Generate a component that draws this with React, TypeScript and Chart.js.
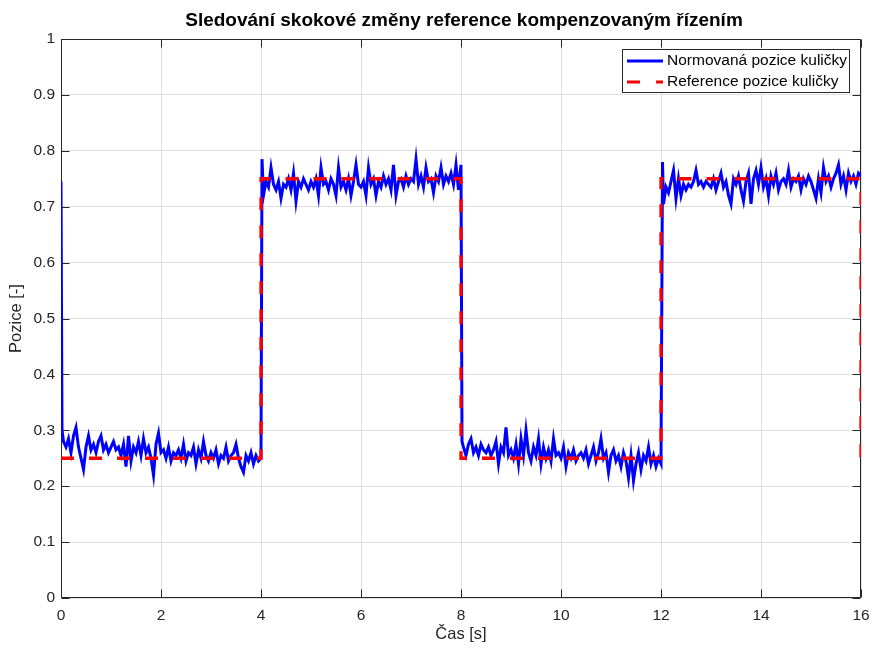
import React, { useEffect, useRef } from "react";
import { Chart, registerables } from "chart.js";

Chart.register(...registerables);

const TITLE = "Sledování skokové změny reference kompenzovaným řízením";
const X_LABEL = "Čas [s]";
const Y_LABEL = "Pozice [-]";
const LEGEND_LABELS = ["Normovaná pozice kuličky", "Reference pozice kuličky"];

// sample step of the measured position [s]
const SAMPLE_STEP = 0.05;

const posStart = [0.745];
const posSeg1 = [
  0.28, 0.27, 0.285, 0.26, 0.29, 0.305, 0.27, 0.25, 0.23, 0.27, 0.29, 0.265, 0.275, 0.26, 0.28, 0.29, 0.265, 0.275, 0.26, 0.27,
  0.28, 0.265, 0.27, 0.255, 0.275, 0.235, 0.29, 0.245, 0.27, 0.26, 0.28, 0.255, 0.285, 0.26, 0.27, 0.25, 0.22, 0.275, 0.295, 0.26,
  0.265, 0.25, 0.27, 0.245, 0.26, 0.255, 0.265, 0.25, 0.275, 0.245, 0.26, 0.255, 0.27, 0.24, 0.265, 0.25, 0.28, 0.255, 0.245, 0.26,
  0.25, 0.265, 0.24, 0.255, 0.25, 0.27, 0.245, 0.255, 0.26, 0.275, 0.25, 0.235, 0.225, 0.255, 0.245, 0.26, 0.24, 0.255, 0.245,
];
const posAt4 = [0.25];
const posSeg2 = [
  0.72, 0.745, 0.735, 0.77, 0.74, 0.73, 0.745, 0.715, 0.74, 0.735, 0.75, 0.73, 0.76, 0.71, 0.745, 0.735, 0.75, 0.74, 0.73, 0.745,
  0.735, 0.75, 0.72, 0.77, 0.74, 0.745, 0.73, 0.75, 0.74, 0.72, 0.77, 0.735, 0.745, 0.73, 0.75, 0.72, 0.745, 0.775, 0.74, 0.735,
  0.745, 0.72, 0.77, 0.74, 0.75, 0.72, 0.745, 0.735, 0.755, 0.74, 0.75, 0.73, 0.775, 0.72, 0.745, 0.75, 0.735, 0.755, 0.74, 0.75,
  0.745, 0.785, 0.74, 0.755, 0.735, 0.77, 0.745, 0.75, 0.725, 0.755, 0.745, 0.77, 0.74, 0.755, 0.745, 0.76, 0.74, 0.775, 0.73,
];
const posAt8 = [0.775];
const posSeg3 = [
  0.27, 0.255, 0.275, 0.285, 0.26, 0.27, 0.255, 0.275, 0.265, 0.26, 0.27, 0.255, 0.265, 0.28, 0.24, 0.27, 0.26, 0.305, 0.255, 0.265,
  0.25, 0.275, 0.24, 0.285, 0.255, 0.3, 0.26, 0.245, 0.27, 0.255, 0.285, 0.24, 0.27, 0.25, 0.265, 0.245, 0.285, 0.255, 0.26, 0.25,
  0.27, 0.235, 0.26, 0.25, 0.265, 0.245, 0.255, 0.26, 0.25, 0.265, 0.24, 0.255, 0.27, 0.245, 0.26, 0.285, 0.25, 0.26, 0.225, 0.255,
  0.265, 0.245, 0.255, 0.235, 0.26, 0.245, 0.215, 0.255, 0.21, 0.24, 0.26, 0.23, 0.255, 0.245, 0.27, 0.24, 0.255, 0.235, 0.25,
];
const posAt12 = [0.24];
const posSeg4 = [
  0.705, 0.735, 0.725, 0.745, 0.765, 0.715, 0.75, 0.72, 0.74, 0.73, 0.74, 0.735, 0.745, 0.765, 0.74, 0.745, 0.735, 0.745, 0.74, 0.735,
  0.75, 0.73, 0.745, 0.76, 0.735, 0.745, 0.72, 0.705, 0.75, 0.74, 0.755, 0.73, 0.71, 0.745, 0.76, 0.705, 0.75, 0.765, 0.74, 0.77,
  0.735, 0.75, 0.72, 0.755, 0.74, 0.76, 0.73, 0.745, 0.75, 0.74, 0.765, 0.735, 0.75, 0.745, 0.755, 0.73, 0.75, 0.74, 0.755, 0.745,
  0.73, 0.715, 0.75, 0.725, 0.77, 0.745, 0.755, 0.735, 0.75, 0.76, 0.775, 0.74, 0.755, 0.73, 0.76, 0.745, 0.755, 0.74, 0.76,
];
const posEnd = [0.755];

// fast transient samples just after each reference step
const transientT = [0.02, 4.02, 8.02, 12.03];
const transientY = [0.3, 0.785, 0.28, 0.78];

// reference (step changes)
const refT = [0, 4, 4, 8, 8, 12, 12, 16, 16];
const refY = [0.25, 0.25, 0.75, 0.75, 0.25, 0.25, 0.75, 0.75, 0.25];

const X_MIN = 0, X_MAX = 16, X_STEP = 2;
const Y_MIN = 0, Y_MAX = 1, Y_STEP = 0.1;

const FONT = "'Liberation Sans', Arial, Helvetica, sans-serif";
const AXIS_COLOR = "#262626";

export default function App() {
  const canvasRef = useRef<HTMLCanvasElement>(null);

  useEffect(() => {
    document.body.style.margin = "0";
    const canvas = canvasRef.current;
    if (!canvas) return;

    const gridVals = [
      ...posStart, ...posSeg1, ...posAt4, ...posSeg2, ...posAt8, ...posSeg3, ...posAt12, ...posSeg4, ...posEnd,
    ];
    const posData: { x: number; y: number }[] = gridVals.map((v, i) => ({ x: +(i * SAMPLE_STEP).toFixed(3), y: v }));
    transientT.forEach((t, i) => posData.push({ x: t, y: transientY[i] }));
    posData.sort((a, b) => a.x - b.x);

    const refData = refT.map((t, i) => ({ x: t, y: refY[i] }));

    const boxPlugin = {
      id: "boxPlugin",
      beforeDatasetsDraw(c: any) {
        const { ctx, chartArea: a, scales } = c;
        ctx.save();
        ctx.strokeStyle = AXIS_COLOR;
        ctx.lineWidth = 1;
        const L = Math.round(a.left) + 0.5, R = Math.round(a.right) - 0.5;
        const T = Math.round(a.top) + 0.5, B = Math.round(a.bottom) - 0.5;
        ctx.beginPath();
        ctx.rect(L, T, R - L, B - T);
        const tl = 8;
        for (let v = X_MIN; v <= X_MAX + 1e-9; v += X_STEP) {
          const px = Math.round(scales.x.getPixelForValue(v)) + 0.5;
          ctx.moveTo(px, B); ctx.lineTo(px, B - tl);
          ctx.moveTo(px, T); ctx.lineTo(px, T + tl);
        }
        for (let k = 0; k <= 10; k++) {
          const py = Math.round(scales.y.getPixelForValue(Y_MIN + k * Y_STEP)) + 0.5;
          ctx.moveTo(L, py); ctx.lineTo(L + tl, py);
          ctx.moveTo(R, py); ctx.lineTo(R - tl, py);
        }
        ctx.stroke();
        ctx.restore();
      },
      afterDraw(c: any) {
        const { ctx, chartArea: a } = c;
        ctx.save();
        // title
        ctx.fillStyle = "#000";
        ctx.font = `bold 19px ${FONT}`;
        ctx.textAlign = "center";
        ctx.textBaseline = "middle";
        ctx.fillText(TITLE, (a.left + a.right) / 2 + 3, 21);
        // legend
        const lx = 622, ly = 49, lw = 227, lh = 43;
        ctx.fillStyle = "#fff";
        ctx.fillRect(lx, ly, lw, lh);
        ctx.strokeStyle = AXIS_COLOR;
        ctx.lineWidth = 1;
        ctx.strokeRect(lx + 0.5, ly + 0.5, lw, lh);
        ctx.lineWidth = 3;
        ctx.strokeStyle = "#0000ff";
        ctx.beginPath();
        ctx.moveTo(627, 61); ctx.lineTo(663, 61);
        ctx.stroke();
        ctx.strokeStyle = "#ff0000";
        ctx.setLineDash([13, 16]);
        ctx.beginPath();
        ctx.moveTo(627, 82); ctx.lineTo(663, 82);
        ctx.stroke();
        ctx.setLineDash([]);
        ctx.fillStyle = "#000";
        ctx.font = `15.5px ${FONT}`;
        ctx.textAlign = "left";
        ctx.textBaseline = "middle";
        ctx.fillText(LEGEND_LABELS[0], 667, 61);
        ctx.fillText(LEGEND_LABELS[1], 667, 82);
        ctx.restore();
      },
    };

    const chart = new Chart(canvas, {
      type: "line",
      data: {
        datasets: [
          {
            label: LEGEND_LABELS[1],
            data: refData,
            borderColor: "#ff0000",
            borderWidth: 3.3,
            borderDash: [13, 15],
            pointRadius: 0,
            tension: 0,
            fill: false,
          },
          {
            label: LEGEND_LABELS[0],
            data: posData,
            borderColor: "#0000ff",
            borderWidth: 3,
            pointRadius: 0,
            tension: 0,
            fill: false,
          },
        ],
      },
      options: {
        animation: false,
        responsive: false,
        devicePixelRatio: 1,
        parsing: false,
        normalized: true,
        layout: { padding: { top: 39, right: 12, bottom: 0, left: 0 } },
        plugins: {
          legend: { display: false },
          title: { display: false },
          tooltip: { enabled: false },
        },
        scales: {
          x: {
            type: "linear",
            min: X_MIN,
            max: X_MAX,
            afterFit: (s: any) => { s.height = 50; s.paddingLeft = 0; s.paddingRight = 0; },
            grid: { color: "#dfdfdf", lineWidth: 1, drawTicks: false },
            border: { display: false },
            ticks: {
              stepSize: X_STEP,
              color: AXIS_COLOR,
              font: { family: FONT, size: 15.5 },
              padding: 8,
              maxRotation: 0,
              callback: (v: any) => String(Math.round(v)),
            },
            title: {
              display: true,
              text: X_LABEL,
              color: AXIS_COLOR,
              font: { family: FONT, size: 16.5 },
              padding: { top: 0, bottom: 4 },
            },
          },
          y: {
            type: "linear",
            min: Y_MIN,
            max: Y_MAX,
            afterFit: (s: any) => { s.width = 61; s.paddingTop = 0; s.paddingBottom = 0; },
            grid: { color: "#dfdfdf", lineWidth: 1, drawTicks: false },
            border: { display: false },
            ticks: {
              stepSize: Y_STEP,
              color: AXIS_COLOR,
              font: { family: FONT, size: 15.5 },
              padding: 6,
              callback: (v: any) => String(Math.round(v * 10) / 10),
            },
            title: {
              display: true,
              text: Y_LABEL,
              color: AXIS_COLOR,
              font: { family: FONT, size: 16.5 },
              padding: { top: 7, bottom: 0 },
            },
          },
        },
      },
      plugins: [boxPlugin],
    });

    return () => chart.destroy();
  }, []);

  return (
    <div style={{ position: "fixed", left: 0, top: 0, width: 873, height: 648, background: "#fff" }}>
      <canvas ref={canvasRef} width={873} height={648} style={{ width: 873, height: 648, display: "block" }} />
    </div>
  );
}
